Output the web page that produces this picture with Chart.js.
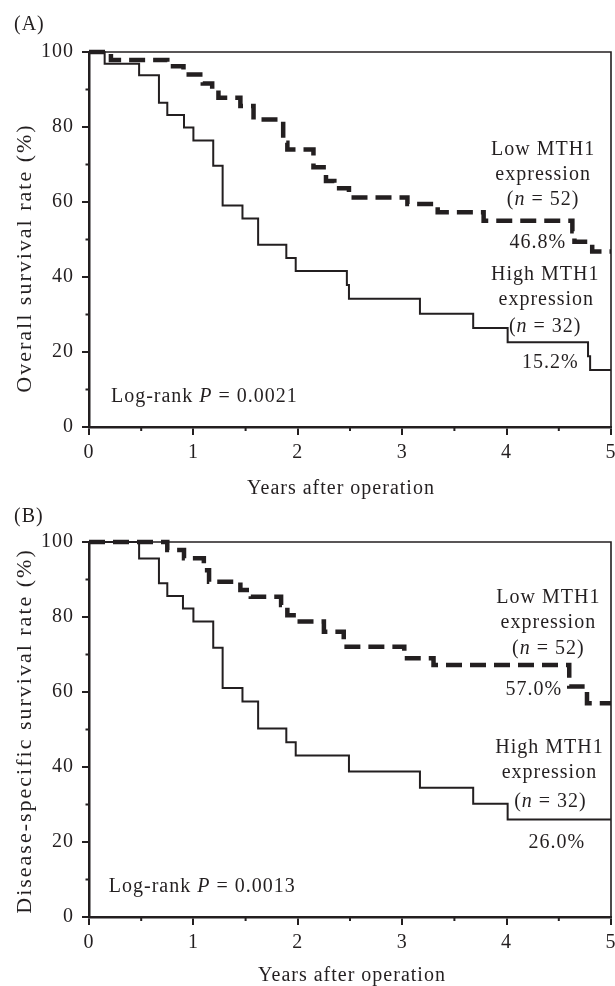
<!DOCTYPE html>
<html><head><meta charset="utf-8">
<script src="https://cdn.jsdelivr.net/npm/chart.js@4.4.1/dist/chart.umd.min.js"></script>
<style>
html,body{margin:0;padding:0;background:#fff;overflow:hidden;}
#wrap{position:relative;width:615px;height:986px;}
.pane{position:absolute;left:0;width:615px;height:500px;}
#pa{top:0;}
#pb{top:490px;}
</style></head><body>
<div id="wrap">
<div class="pane" id="pa"><canvas id="ca" width="615" height="500"></canvas></div>
<div class="pane" id="pb"><canvas id="cb" width="615" height="500"></canvas></div>
</div>
<script>
// ---- tick values ----
const yearTicks = [0, 1, 2, 3, 4, 5];
const rateTicks = [0, 20, 40, 60, 80, 100];
const minorYearTicks = [0.5, 1.5, 2.5, 3.5, 4.5];
const minorRateTicks = [10, 30, 50, 70, 90];

// ---- (A) Overall survival ----
const osLowYears  = [0, 0.21, 0.75, 0.905, 1.09, 1.18, 1.24, 1.45, 1.576, 1.86, 1.90, 2.15, 2.27, 2.35, 2.49, 3.05, 3.34, 3.78, 4.63, 4.65, 4.82, 5.0];
const osLowSurv   = [100, 97.9, 96.2, 94.0, 91.6, 89.9, 87.8, 85.6, 82.0, 75.8, 74.0, 69.3, 65.6, 63.7, 61.2, 59.5, 57.3, 55.0, 52.2, 49.4, 46.8, 46.8];
const osHighYears = [0, 0.15, 0.48, 0.67, 0.75, 0.91, 1.0, 1.19, 1.28, 1.47, 1.62, 1.89, 1.98, 2.47, 2.49, 3.17, 3.68, 4.01, 4.78, 4.80, 5.0];
const osHighSurv  = [100, 96.9, 93.8, 86.5, 83.2, 79.9, 76.4, 69.7, 59.1, 55.6, 48.6, 45.1, 41.6, 37.9, 34.2, 30.2, 26.4, 22.6, 18.9, 15.2, 15.2];

// ---- (B) Disease-specific survival ----
const dssLowYears  = [0, 0.75, 0.91, 1.10, 1.15, 1.45, 1.55, 1.84, 1.90, 1.96, 2.25, 2.44, 3.02, 3.30, 4.60, 4.77, 5.0];
const dssLowSurv   = [100, 97.9, 95.7, 92.5, 89.4, 87.2, 85.4, 83.2, 80.5, 78.8, 76.1, 72.1, 69.0, 67.2, 61.5, 57.0, 57.0];
const dssHighYears = [0, 0.48, 0.67, 0.75, 0.90, 1.0, 1.19, 1.28, 1.47, 1.62, 1.89, 1.98, 2.49, 3.17, 3.68, 4.01, 5.0];
const dssHighSurv  = [100, 95.6, 89.0, 85.6, 82.3, 78.8, 71.8, 61.1, 57.5, 50.3, 46.6, 43.1, 38.8, 34.5, 30.2, 26.0, 26.0];

const FONT = '"Liberation Serif", "Times New Roman", serif';
const INK = '#231f20';

function series(years, surv) { return years.map((t, i) => ({ x: t, y: surv[i] })); }

function drawRich(ctx, text, x, y, align) {
  const segs = text.split('*').map((s, i) => ({ s, it: i % 2 === 1 }));
  const font = it => `${it ? 'italic ' : ''}20px ${FONT}`;
  let w = 0;
  segs.forEach(g => { ctx.font = font(g.it); g.w = ctx.measureText(g.s).width; w += g.w; });
  let cx = align === 'center' ? x - w / 2 : x;
  ctx.textAlign = 'left'; ctx.textBaseline = 'middle';
  segs.forEach(g => { ctx.font = font(g.it); ctx.fillText(g.s, cx, y); cx += g.w; });
}

const kmDecor = {
  id: 'kmDecor',
  beforeDraw(chart) { chart.ctx.letterSpacing = '1px'; },
  afterDraw(chart, args, opts) {
    const { ctx, chartArea: a, scales: { x, y } } = chart;
    ctx.save();
    ctx.letterSpacing = '1px';
    ctx.strokeStyle = INK;
    ctx.lineWidth = 1.6;
    ctx.beginPath();
    ctx.moveTo(a.left, a.top); ctx.lineTo(a.right, a.top); ctx.lineTo(a.right, a.bottom);
    ctx.stroke();
    ctx.lineWidth = 2;
    minorRateTicks.forEach(v => {
      const py = y.getPixelForValue(v);
      ctx.beginPath(); ctx.moveTo(a.left - 3.5, py); ctx.lineTo(a.left, py); ctx.stroke();
    });
    minorYearTicks.forEach(v => {
      const px = x.getPixelForValue(v);
      ctx.beginPath(); ctx.moveTo(px, a.bottom); ctx.lineTo(px, a.bottom + 4); ctx.stroke();
    });
    ctx.fillStyle = INK;
    opts.notes.forEach(n => drawRich(ctx, n.text, x.getPixelForValue(n.x), y.getPixelForValue(n.y), n.align));
    // panel label
    ctx.font = `20px ${FONT}`; ctx.textAlign = 'left'; ctx.textBaseline = 'middle';
    ctx.fillText(opts.panel, 14, opts.panelY);
    // x axis title
    ctx.textAlign = 'center';
    ctx.fillText('Years after operation', opts.xTitle[0], opts.xTitle[1]);
    // y axis title
    ctx.save();
    ctx.font = `22px ${FONT}`;
    ctx.letterSpacing = '2px';
    ctx.translate(opts.yTitle[0], opts.yTitle[1]);
    ctx.rotate(-Math.PI / 2);
    ctx.textAlign = 'center'; ctx.textBaseline = 'middle';
    ctx.fillText(opts.yText, 0, 0);
    ctx.restore();
    ctx.restore();
  }
};

function makeChart(id, lowData, highData, yText, notes, panel, panelY, xTitle, yTitle) {
  return new Chart(document.getElementById(id), {
    type: 'line',
    data: {
      datasets: [
        { data: lowData, borderColor: INK, borderWidth: 4.5, borderDash: [16, 8], stepped: 'before',
          pointRadius: 0, fill: false, clip: false },
        { data: highData, borderColor: INK, borderWidth: 2, stepped: 'before',
          pointRadius: 0, fill: false, clip: false }
      ]
    },
    options: {
      responsive: false, animation: false, devicePixelRatio: 1,
      layout: { padding: { top: 52, right: 4, left: 0, bottom: 0 } },
      plugins: { legend: { display: false }, tooltip: { enabled: false },
        kmDecor: { notes, panel, panelY, xTitle, yTitle, yText } },
      scales: {
        x: {
          type: 'linear', min: 0, max: 5,
          afterBuildTicks: s => { s.ticks = yearTicks.map(v => ({ value: v })); },
          afterFit: s => { s.height = 73; s.paddingLeft = 0; s.paddingRight = 0; },
          ticks: { font: { family: FONT, size: 20 }, color: INK, padding: 6, maxRotation: 0, autoSkip: false },
          grid: { drawOnChartArea: false, drawTicks: true, tickLength: 8, lineWidth: 2, tickWidth: 2, tickColor: INK },
          border: { display: true, width: 2.5, color: INK },
          title: { display: false }
        },
        y: {
          type: 'linear', min: 0, max: 100,
          afterBuildTicks: s => { s.ticks = rateTicks.map(v => ({ value: v })); },
          afterFit: s => { s.width = 89; },
          ticks: { font: { family: FONT, size: 20 }, color: INK, padding: 8, autoSkip: false },
          grid: { drawOnChartArea: false, drawTicks: true, tickLength: 7, lineWidth: 2, tickWidth: 2, tickColor: INK },
          border: { display: true, width: 2.5, color: INK },
          title: { display: false }
        }
      }
    },
    plugins: [kmDecor]
  });
}

makeChart('ca', series(osLowYears, osLowSurv), series(osHighYears, osHighSurv),
  'Overall survival rate (%)',
  [
    { text: 'Low MTH1', x: 4.35, y: 73.9, align: 'center' },
    { text: 'expression', x: 4.35, y: 67.2, align: 'center' },
    { text: '(*n* = 52)', x: 4.35, y: 60.5, align: 'center' },
    { text: '46.8%', x: 4.30, y: 49.1, align: 'center' },
    { text: 'High MTH1', x: 4.37, y: 40.5, align: 'center' },
    { text: 'expression', x: 4.38, y: 33.9, align: 'center' },
    { text: '(*n* = 32)', x: 4.37, y: 26.7, align: 'center' },
    { text: '15.2%', x: 4.42, y: 17.1, align: 'center' },
    { text: 'Log-rank *P* = 0.0021', x: 0.21, y: 8.0, align: 'left' }
  ], '(A)', 25, [341, 489], [25, 258]);

makeChart('cb', series(dssLowYears, dssLowSurv), series(dssHighYears, dssHighSurv),
  'Disease-specific survival rate (%)',
  [
    { text: 'Low MTH1', x: 4.40, y: 85.1, align: 'center' },
    { text: 'expression', x: 4.40, y: 78.4, align: 'center' },
    { text: '(*n* = 52)', x: 4.40, y: 71.5, align: 'center' },
    { text: '57.0%', x: 4.26, y: 60.5, align: 'center' },
    { text: 'High MTH1', x: 4.41, y: 45.1, align: 'center' },
    { text: 'expression', x: 4.41, y: 38.4, align: 'center' },
    { text: '(*n* = 32)', x: 4.42, y: 30.7, align: 'center' },
    { text: '26.0%', x: 4.48, y: 19.7, align: 'center' },
    { text: 'Log-rank *P* = 0.0013', x: 0.19, y: 8.0, align: 'left' }
  ], '(B)', 27, [352, 486], [25, 241]);
</script>
</body></html>
